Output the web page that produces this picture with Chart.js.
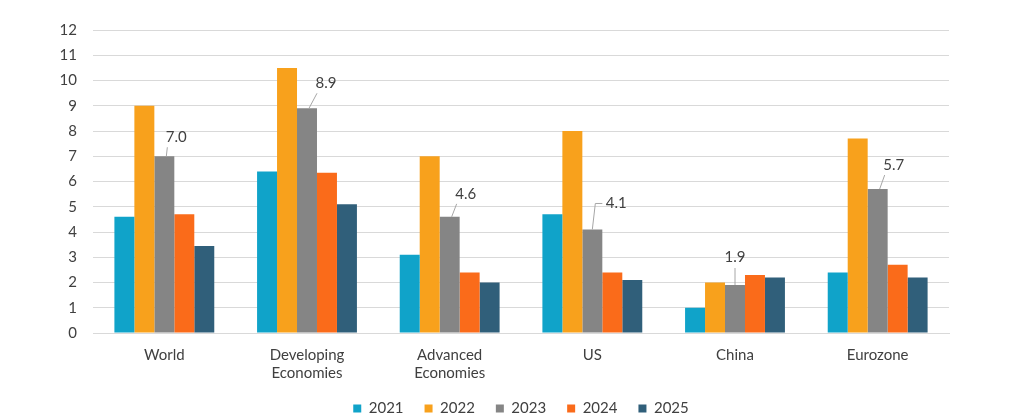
<!DOCTYPE html>
<html>
<head>
<meta charset="utf-8">
<script src="https://cdn.jsdelivr.net/npm/chart.js@4.4.0/dist/chart.umd.min.js"></script>
<style>
  html, body { margin: 0; padding: 0; background: #fff; }
  #wrap { width: 1026px; height: 414px; }
</style>
</head>
<body>
<div id="wrap"><canvas id="chart"></canvas></div>
<script>
var categories = ['World', ['Developing', 'Economies'], ['Advanced', 'Economies'], 'US', 'China', 'Eurozone'];
var years = ['2021', '2022', '2023', '2024', '2025'];
var values2021 = [4.6, 6.4, 3.1, 4.7, 1.0, 2.4];
var values2022 = [9.0, 10.5, 7.0, 8.0, 2.0, 7.7];
var values2023 = [7.0, 8.9, 4.6, 4.1, 1.9, 5.7];
var values2024 = [4.7, 6.35, 2.4, 2.4, 2.3, 2.7];
var values2025 = [3.45, 5.1, 2.0, 2.1, 2.2, 2.2];
var yTicks = [0, 1, 2, 3, 4, 5, 6, 7, 8, 9, 10, 11, 12];

var colors = ['#10a3c9', '#f8a11c', '#858585', '#fa6b1a', '#305f7a'];
var seriesValues = [values2021, values2022, values2023, values2024, values2025];
var labelledSeries = 2;
// label offset from top of the 2023 bar [dx, dy]
var labelOffsets = [[12, -19], [19, -25], [16, -23], [24, -26], [0, -28], [16, -24]];

var textColor = '#404040';
var fontFamily = 'Lato, "Open Sans", sans-serif';

var datasets = [];
for (var i = 0; i < years.length; i++) {
  datasets.push({
    label: years[i],
    data: seriesValues[i],
    backgroundColor: colors[i],
    borderWidth: 0,
    categoryPercentage: 0.7,
    barPercentage: 1.0
  });
}

var leaderLabels = {
  id: 'leaderLabels',
  afterDatasetsDraw: function(chart) {
    var ctx = chart.ctx;
    var meta = chart.getDatasetMeta(labelledSeries);
    var data = seriesValues[labelledSeries];
    ctx.save();
    ctx.font = '15px ' + fontFamily;
    ctx.fillStyle = textColor;
    ctx.textAlign = 'center';
    ctx.textBaseline = 'middle';
    ctx.strokeStyle = '#a6a6a6';
    ctx.lineWidth = 1;
    for (var i = 0; i < meta.data.length; i++) {
      var bar = meta.data[i];
      var off = labelOffsets[i];
      var lx = bar.x + off[0];
      var ly = bar.y + off[1];
      ctx.beginPath();
      if (off[0] === 0) {
        ctx.moveTo(bar.x, bar.y);
        ctx.lineTo(bar.x, ly + 11);
      } else if (i === 3) {
        ctx.moveTo(bar.x, bar.y);
        ctx.lineTo(bar.x + 3, ly);
        ctx.lineTo(lx - 14, ly);
      } else {
        ctx.moveTo(bar.x + 2, bar.y);
        ctx.lineTo(lx - 9, ly + 10);
      }
      ctx.stroke();
      ctx.fillText(data[i].toFixed(1), lx, ly);
    }
    ctx.restore();
  }
};

new Chart(document.getElementById('chart'), {
  type: 'bar',
  data: { labels: categories, datasets: datasets },
  plugins: [leaderLabels],
  options: {
    responsive: true,
    maintainAspectRatio: false,
    animation: false,
    layout: { padding: { left: 50, right: 77, top: 30, bottom: 0 } },
    plugins: {
      legend: {
        position: 'bottom',
        fullSize: false,
        maxHeight: 34,
        labels: {
          color: textColor,
          font: { family: fontFamily, size: 15 },
          boxWidth: 8,
          boxHeight: 8,
          padding: 21
        }
      },
      tooltip: { enabled: false }
    },
    scales: {
      x: {
        grid: { display: false, drawTicks: false },
        border: { display: true, color: '#d9d9d9' },
        ticks: { color: textColor, font: { family: fontFamily, size: 15 }, padding: 13, maxRotation: 0 },
        afterFit: function(scale) {
          scale.height = 47;
          // let the second line of the labels run past the axis box
          scale._computeLabelArea = function() {};
        }
      },
      y: {
        min: 0,
        max: 12,
        afterBuildTicks: function(scale) {
          scale.ticks = yTicks.map(function(v) { return { value: v }; });
        },
        grid: { color: '#d9d9d9', drawTicks: false },
        border: { display: false },
        ticks: { color: textColor, font: { family: fontFamily, size: 15 }, padding: 16 },
        afterFit: function(scale) { scale.width = 43; }
      }
    }
  }
});
</script>
</body>
</html>
